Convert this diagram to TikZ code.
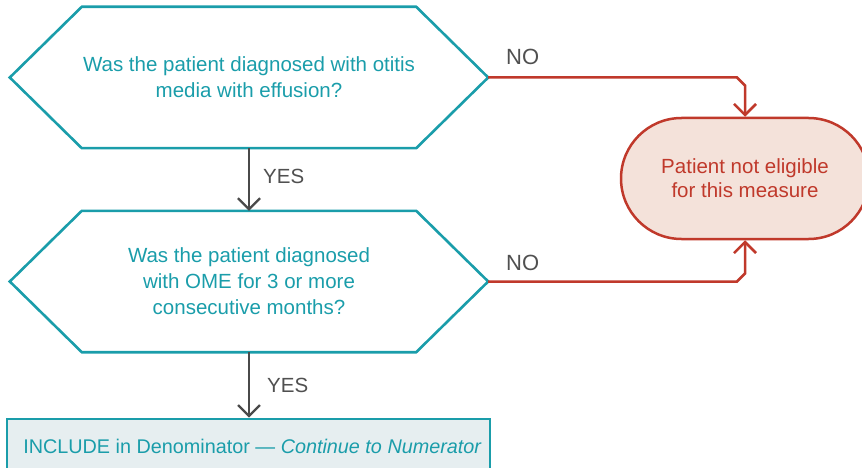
\documentclass[tikz,border=0pt]{standalone}
\usepackage{fontspec}
\setmainfont{Liberation Sans}
\usetikzlibrary{arrows.meta}
\definecolor{teal1}{HTML}{1A9DAA}
\definecolor{red1}{HTML}{C0392B}
\definecolor{pinkfill}{HTML}{F4E2DA}
\definecolor{boxfill}{HTML}{E6EEF0}
\definecolor{arrowgray}{HTML}{4A4A4A}
\definecolor{labelgray}{HTML}{505050}
\begin{document}
\begin{tikzpicture}[x=1pt,y=-1pt,
  hexframe/.style={draw=teal1, line width=2.6pt, line join=miter},
  hexnode/.style={minimum width=478pt, minimum height=141pt, inner sep=0pt,
    text=teal1, align=center, font=\fontsize{20.5}{26}\selectfont},
  term/.style={draw=red1, fill=pinkfill, line width=2.5pt, rounded corners=60.5pt,
    minimum width=248pt, minimum height=121pt, inner sep=0pt, text=red1,
    align=center, font=\fontsize{20.5}{24}\selectfont},
  inclbox/.style={draw=teal1, fill=boxfill, line width=2.6pt, minimum width=483pt,
    minimum height=54pt, inner sep=0pt, text=teal1, font=\fontsize{19.8}{24}\selectfont},
  yesarrow/.style={draw=arrowgray, line width=2.3pt, -{Straight Barb[length=11pt,width=22pt]}},
  noarrow/.style={draw=red1, line width=2.5pt, line join=miter, -{Straight Barb[length=11pt,width=22pt]}},
  nolbl/.style={text=labelgray, inner sep=0pt, anchor=base west, font=\fontsize{22}{24}\selectfont},
  yeslbl/.style={text=labelgray, inner sep=0pt, anchor=base west, font=\fontsize{20.5}{24}\selectfont}
]
\useasboundingbox (0,0) rectangle (862,468);
\clip (0,0) rectangle (862,468);

% decision 1
\node[hexnode] (q1) at (249,77.5) {Was the patient diagnosed with otitis\\media with effusion?};
\draw[hexframe] (q1.west) -- ([xshift=72pt]q1.north west) -- ([xshift=-72pt]q1.north east)
  -- (q1.east) -- ([xshift=-72pt]q1.south east) -- ([xshift=72pt]q1.south west) -- cycle;

% decision 2
\node[hexnode] (q2) at (249,281.5) {Was the patient diagnosed\\with OME for 3 or more\\consecutive months?};
\draw[hexframe] (q2.west) -- ([xshift=72pt]q2.north west) -- ([xshift=-72pt]q2.north east)
  -- (q2.east) -- ([xshift=-72pt]q2.south east) -- ([xshift=72pt]q2.south west) -- cycle;

% terminal
\node[term] (t) at (745,178.5) {Patient not eligible\\for this measure};

% include box
\node[inclbox] (b) at (248.5,446) {\hspace*{8pt}INCLUDE in Denominator — \textit{Continue to Numerator}};

% connectors
\draw[yesarrow] (q1.south) -- (q2.north);
\draw[yesarrow] (q2.south) -- (q2.south |- b.north);

\coordinate (k1) at (737,77.5);
\coordinate (k2) at (745,85.5);
\draw[noarrow] (q1.east) -- (k1) -- (k2) -- (t.north);
\coordinate (k3) at (737,281.5);
\coordinate (k4) at (745,273.5);
\draw[noarrow] (q2.east) -- (k3) -- (k4) -- (t.south);

% labels
\node[nolbl] (no1) at (506,65) {NO};
\node[nolbl] (no2) at (506,270) {NO};
\node[yeslbl] (yes1) at (263,183) {YES};
\node[yeslbl] (yes2) at (267,392) {YES};
\end{tikzpicture}
\end{document}
